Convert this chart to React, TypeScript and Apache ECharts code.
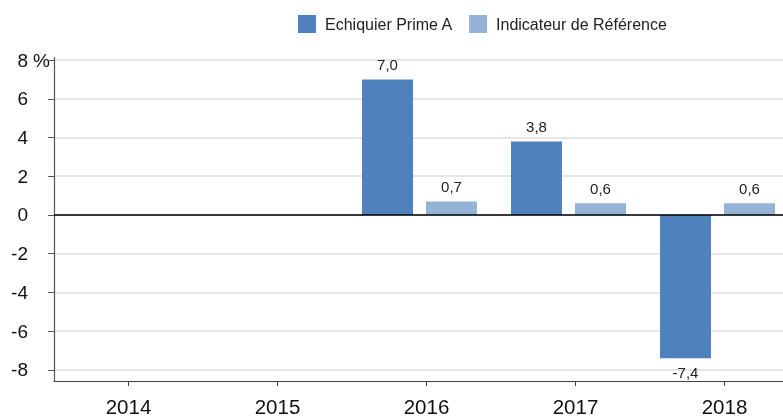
import React, { useEffect, useRef } from "react";
import * as echarts from "echarts";

const categories = ["2014", "2015", "2016", "2017", "2018"];
const fundName = "Echiquier Prime A";
const refName = "Indicateur de Référence";
const fundValues: (number | null)[] = [null, null, 7.0, 3.8, -7.4];
const refValues: (number | null)[] = [null, null, 0.7, 0.6, 0.6];
const yTicks = [-8, -6, -4, -2, 0, 2, 4, 6, 8];
const spacerValues: (number | null)[] = [null, null, null, null, null];

const FONT = "Arial, 'Liberation Sans', sans-serif";

function fmt(v: number) {
  return v.toFixed(1).replace(".", ",");
}

function toItems(vals: (number | null)[]) {
  return vals.map((v) =>
    v !== null && v < 0 ? { value: v, label: { position: "bottom" } } : v
  );
}

export default function App() {
  const ref = useRef<HTMLDivElement>(null);
  useEffect(() => {
    if (!ref.current) return;
    const chart = echarts.init(ref.current, null, { renderer: "svg" });
    const labelCfg = {
      show: true,
      position: "top",
      distance: 7,
      fontSize: 15,
      fontFamily: FONT,
      color: "#222",
      formatter: (p: any) => (p.value === null || p.value === undefined ? "" : fmt(p.value)),
    };
    chart.setOption({
      animation: false,
      textStyle: { fontFamily: FONT },
      legend: {
        data: [fundName, refName],
        left: 298,
        top: 15,
        padding: 0,
        itemWidth: 18,
        itemHeight: 18,
        itemGap: 16,
        icon: "rect",
        textStyle: { fontSize: 16, color: "#222", fontFamily: FONT, padding: [0, 0, 0, 4] },
      },
      grid: {
        left: 54,
        right: -16,
        top: 57.5,
        bottom: 37,
        containLabel: false,
        outerBoundsMode: "none",
      },
      xAxis: {
        type: "category",
        data: categories,
        axisLine: { onZero: false, lineStyle: { color: "#404040", width: 1.2 } },
        axisTick: { show: true, alignWithLabel: true, length: 5, lineStyle: { color: "#404040" } },
        axisLabel: { fontSize: 20.5, color: "#111", fontFamily: FONT, margin: 15 },
        splitLine: { show: false },
      },
      yAxis: {
        type: "value",
        min: -8.57,
        max: 8.13,
        name: "%",
        nameLocation: "end",
        nameGap: -2.5,
        nameMoveOverlap: false,
        nameTextStyle: {
          fontSize: 19,
          color: "#111",
          fontFamily: FONT,
          align: "right",
          verticalAlign: "middle",
          padding: [0, 4, 0, 0],
        },
        axisLine: { show: true, lineStyle: { color: "#555", width: 1.2 } },
        axisTick: { show: true, length: 6, customValues: yTicks, lineStyle: { color: "#555" } },
        axisLabel: {
          customValues: yTicks,
          fontSize: 19,
          color: "#111",
          fontFamily: FONT,
          margin: 26,
          formatter: (v: number) => String(v),
        },
        splitLine: { show: true, lineStyle: { color: "#dcdcdc", width: 1.5 } },
      },
      series: [
        {
          name: fundName,
          type: "bar",
          data: toItems(fundValues),
          barWidth: 51,
          barGap: "25.5%",
          itemStyle: { color: "#4F81BD" },
          label: labelCfg,
          markLine: {
            silent: true,
            symbol: "none",
            label: { show: false },
            lineStyle: { color: "#000", width: 1.5, type: "solid" },
            data: [{ yAxis: 0 }],
          },
        },
        {
          name: refName,
          type: "bar",
          data: toItems(refValues),
          barWidth: 51,
          barGap: "25.5%",
          itemStyle: { color: "#95B3D7" },
          label: labelCfg,
        },
        {
          name: "spacer",
          type: "bar",
          data: spacerValues,
          barWidth: 1,
          barGap: "25.5%",
          silent: true,
          itemStyle: { color: "transparent" },
        },
      ],
    });
    return () => chart.dispose();
  }, []);
  return (
    <div
      ref={ref}
      style={{ position: "fixed", left: 0, top: 0, width: 783, height: 418 }}
    />
  );
}
